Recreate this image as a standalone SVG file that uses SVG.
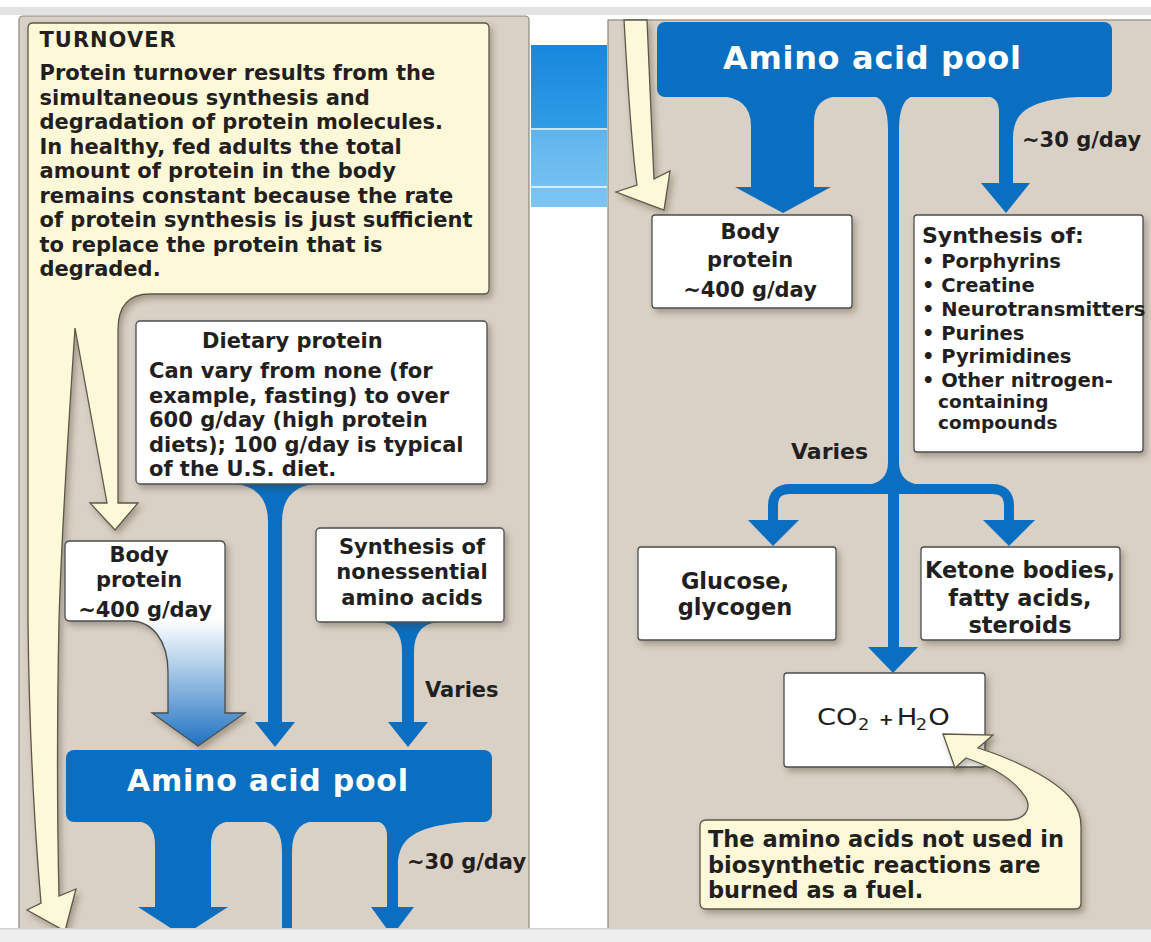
<svg xmlns="http://www.w3.org/2000/svg" width="1151" height="942" viewBox="0 0 1151 942">
<defs>
<style>
.panel{fill:#dad1c6;stroke:#8c8780;stroke-width:1.2}
.box{fill:#ffffff;stroke:#4d4d4d;stroke-width:1.3}
.yel{fill:#fdf9d8;stroke:#5f5648;stroke-width:1.3}
.blue{fill:#0b6fc1}
.bline{fill:none;stroke:#0b6fc1;stroke-width:10}
.t{font-family:'DejaVu Sans','Liberation Sans',sans-serif;font-weight:bold;fill:#231f20}
.s18{font-size:18.5px}
.s19{font-size:19.5px}
.s21{font-size:21px}
.s22{font-size:22px}
.s23{font-size:22.5px}
.pool{font-family:'DejaVu Sans','Liberation Sans',sans-serif;font-weight:bold;fill:#ffffff}
.mid{text-anchor:middle}
</style>
<filter id="sh" x="-10%" y="-10%" width="130%" height="130%">
<feDropShadow dx="3" dy="4" stdDeviation="3" flood-color="#3a3020" flood-opacity="0.35"/>
</filter>
<linearGradient id="bp" x1="0" y1="541" x2="0" y2="746" gradientUnits="userSpaceOnUse">
<stop offset="0" stop-color="#ffffff"/>
<stop offset="0.38" stop-color="#ffffff"/>
<stop offset="0.55" stop-color="#c6dbf0"/>
<stop offset="1" stop-color="#1f72c2"/>
</linearGradient>
<linearGradient id="img" x1="0" y1="45" x2="0" y2="207" gradientUnits="userSpaceOnUse">
<stop offset="0" stop-color="#1787dd"/>
<stop offset="0.51" stop-color="#2f9ce6"/>
<stop offset="0.53" stop-color="#5fb4ed"/>
<stop offset="1" stop-color="#7cc6f5"/>
</linearGradient>
</defs>

<!-- background -->
<rect x="0" y="0" width="1151" height="942" fill="#ffffff"/>
<rect x="0" y="7" width="1151" height="8" fill="#e2e2e2"/>
<rect x="19" y="16" width="510" height="930" rx="4" class="panel"/>
<rect x="608" y="20" width="560" height="930" class="panel"/>
<rect x="531" y="45" width="76" height="162" fill="url(#img)"/>
<rect x="531" y="128" width="76" height="2" fill="#e6f4fd" opacity="0.8"/>
<rect x="531" y="186" width="76" height="2" fill="#eef8fe" opacity="0.8"/>

<!-- connectors -->
<g id="connectors">
  <!-- right panel outflows -->
  <path class="blue" d="M 718 96 Q 751 97 751 126 V 187 H 735 L 783 213 L 831 187 H 814 V 122 Q 814 97 840 96 Z"/>
  <path class="blue" d="M 874 96 Q 888 100 888 130 V 647 H 868 L 893 673 L 918 647 H 899 V 130 Q 899 100 913 96 Z"/>
  <path class="blue" d="M 986 96 Q 999 97 999 112 V 183 H 981 L 1006 213 L 1030 183 H 1013 V 138 C 1013 108 1035 97 1101 96 Z"/>
  <path class="bline" d="M 893 489 H 790 Q 773 489 773 506 V 522"/>
  <path class="bline" d="M 893 489 H 992 Q 1009 489 1009 506 V 522"/>
  <path class="blue" d="M 866 485 Q 888 483 888 462 L 899 462 Q 899 483 921 485 Z"/>
  <polygon class="blue" points="748,520 799,520 773,546"/>
  <polygon class="blue" points="983,520 1035,520 1009,546"/>
  <!-- left panel inflows -->
  <path class="blue" d="M 236 484 Q 268 488 268 522 V 722 H 255 L 275 747 L 295 722 H 282 V 522 Q 282 488 314 484 Z"/>
  <path class="blue" d="M 380 622 Q 402 625 402 652 V 722 H 388 L 408 747 L 428 722 H 414 V 652 Q 414 625 437 622 Z"/>
  <!-- left panel outflows -->
  <path class="blue" d="M 136 821 Q 155 822 155 845 V 907 H 138 L 183 936 L 228 907 H 211 V 845 Q 211 822 232 821 Z"/>
  <path class="blue" d="M 262 821 Q 282 824 282 852 V 940 H 292 V 852 Q 292 824 313 821 Z"/>
  <path class="blue" d="M 374 821 Q 387 822 387 836 V 907 H 371 L 392 936 L 414 907 H 398 V 866 C 398 836 418 823 486 821 Z"/>
  <!-- labels -->
  <text class="t s21" x="425" y="697">Varies</text>
  <text class="t s21" x="407" y="869">~30 g/day</text>
  <text class="t s22" x="791" y="459">Varies</text>
  <text class="t s21" x="1022" y="147">~30 g/day</text>
</g>

<!-- TURNOVER callout with arrows -->
<g id="turnover">
  <path class="yel" filter="url(#sh)" d="M 33 23 H 484 Q 489 23 489 28 V 289 Q 489 294 484 294 H 150 C 128 294 118 306 118 330 V 503 H 138 L 115 530 L 90 503 H 107 L 75 328 C 69 420 62 520 59 620 C 57 720 57 810 59 896 L 76 889 L 65 931 L 27 910 L 41 903 C 33 810 29 720 28 620 V 28 Q 28 23 33 23 Z"/>
  <path class="yel" filter="url(#sh)" d="M 624 20 C 628 90 632 150 637 185 L 616 192 L 664 210 L 670 171 L 654 179 C 651 120 649 60 647 20 Z"/>
  <text class="t s21" x="39.5" y="47" letter-spacing="1">TURNOVER</text>
  <text class="t s21" x="39.5" y="80">Protein turnover results from the</text>
  <text class="t s21" x="39.5" y="105">simultaneous synthesis and</text>
  <text class="t s21" x="39.5" y="129">degradation of protein molecules.</text>
  <text class="t s21" x="39.5" y="154">In healthy, fed adults the total</text>
  <text class="t s21" x="39.5" y="178">amount of protein in the body</text>
  <text class="t s21" x="39.5" y="203">remains constant because the rate</text>
  <text class="t s21" x="39.5" y="227">of protein synthesis is just sufficient</text>
  <text class="t s21" x="39.5" y="252">to replace the protein that is</text>
  <text class="t s21" x="39.5" y="276">degraded.</text>
</g>

<g id="dietary-protein">
  <rect class="box" filter="url(#sh)" x="136" y="321" width="351" height="163" rx="4"/>
  <text class="t s21" x="202" y="348">Dietary protein</text>
  <text class="t s21" x="149" y="378">Can vary from none (for</text>
  <text class="t s21" x="149" y="403">example, fasting) to over</text>
  <text class="t s21" x="149" y="427">600 g/day (high protein</text>
  <text class="t s21" x="149" y="452">diets); 100 g/day is typical</text>
  <text class="t s21" x="149" y="476">of the U.S. diet.</text>
</g>

<g id="body-protein-left">
  <path filter="url(#sh)" fill="url(#bp)" stroke="#4d4d4d" stroke-width="1.3" d="M 70 541 H 220 Q 225 541 225 546 V 713 H 245 L 198 746 L 152 713 H 168 V 672 C 168 640 152 621 130 621 H 70 Q 65 621 65 616 V 546 Q 65 541 70 541 Z"/>
  <text class="t s21 mid" x="139" y="562">Body</text>
  <text class="t s21 mid" x="139" y="587">protein</text>
  <text class="t s21 mid" x="145" y="617">~400 g/day</text>
</g>

<g id="synthesis-nonessential">
  <rect class="box" filter="url(#sh)" x="316" y="528" width="188" height="94" rx="4"/>
  <text class="t s21 mid" x="412" y="554">Synthesis of</text>
  <text class="t s21 mid" x="412" y="579">nonessential</text>
  <text class="t s21 mid" x="412" y="605">amino acids</text>
</g>

<g id="pool-left">
  <rect class="blue" x="66" y="750" width="426" height="72" rx="8"/>
  <text class="pool" x="127" y="791" font-size="30" textLength="281" lengthAdjust="spacing">Amino acid pool</text>
</g>

<g id="pool-right">
  <rect class="blue" x="657" y="22" width="455" height="75" rx="8"/>
  <text class="pool" x="723" y="69" font-size="32" textLength="298" lengthAdjust="spacing">Amino acid pool</text>
</g>

<g id="body-protein-right">
  <rect class="box" filter="url(#sh)" x="652" y="215" width="200" height="93" rx="3"/>
  <text class="t s21 mid" x="750" y="239">Body</text>
  <text class="t s21 mid" x="750" y="267">protein</text>
  <text class="t s21 mid" x="750" y="297">~400 g/day</text>
</g>

<g id="synthesis-of">
  <rect class="box" filter="url(#sh)" x="914" y="215" width="229" height="237" rx="3"/>
  <text class="t s22" x="922" y="243">Synthesis of:</text>
  <text class="t s19" x="922" y="268">• Porphyrins</text>
  <text class="t s19" x="922" y="292">• Creatine</text>
  <text class="t s19" x="922" y="316">• Neurotransmitters</text>
  <text class="t s19" x="922" y="340">• Purines</text>
  <text class="t s19" x="922" y="363">• Pyrimidines</text>
  <text class="t s19" x="922" y="387">• Other nitrogen-</text>
  <text class="t s18" x="938" y="408">containing</text>
  <text class="t s18" x="938" y="429">compounds</text>
</g>

<g id="glucose">
  <rect class="box" filter="url(#sh)" x="638" y="547" width="198" height="93" rx="3"/>
  <text class="t s23 mid" x="735" y="589">Glucose,</text>
  <text class="t s23 mid" x="735" y="615">glycogen</text>
</g>

<g id="ketone">
  <rect class="box" filter="url(#sh)" x="921" y="547" width="199" height="93" rx="3"/>
  <text class="t s23 mid" x="1020" y="578">Ketone bodies,</text>
  <text class="t s23 mid" x="1020" y="606">fatty acids,</text>
  <text class="t s23 mid" x="1020" y="633">steroids</text>
</g>

<g id="co2">
  <rect class="box" filter="url(#sh)" x="784" y="673" width="201" height="94" rx="3"/>
  <text transform="translate(817 725) scale(1.19 1)" font-family="'DejaVu Sans','Liberation Sans',sans-serif" font-size="23" fill="#231f20"><tspan x="0">CO</tspan><tspan x="34.5" dy="5" font-size="15">2</tspan><tspan x="52" dy="-5" font-size="15" font-weight="bold">+</tspan><tspan x="67">H</tspan><tspan x="83" dy="5" font-size="15">2</tspan><tspan x="93.5" dy="-5">O</tspan></text>
</g>

<g id="fuel-note">
  <path class="yel" filter="url(#sh)" d="M 706 820 H 1008 C 1024 820 1032 810 1026 798 C 1014 778 990 766 966 758 L 955 768 L 943 734 L 993 735 L 978 748 C 1010 758 1055 778 1072 800 Q 1081 812 1081 826 V 903 Q 1081 909 1075 909 H 706 Q 700 909 700 903 V 826 Q 700 820 706 820 Z"/>
  <text class="t s23" x="708" y="847">The amino acids not used in</text>
  <text class="t s23" x="708" y="873">biosynthetic reactions are</text>
  <text class="t s23" x="708" y="898">burned as a fuel.</text>
</g>

<!-- bottom bar -->
<rect x="0" y="928" width="1151" height="14" fill="#eeeeee"/>
<rect x="0" y="928" width="1151" height="1.5" fill="#d2d2d2"/>
</svg>
